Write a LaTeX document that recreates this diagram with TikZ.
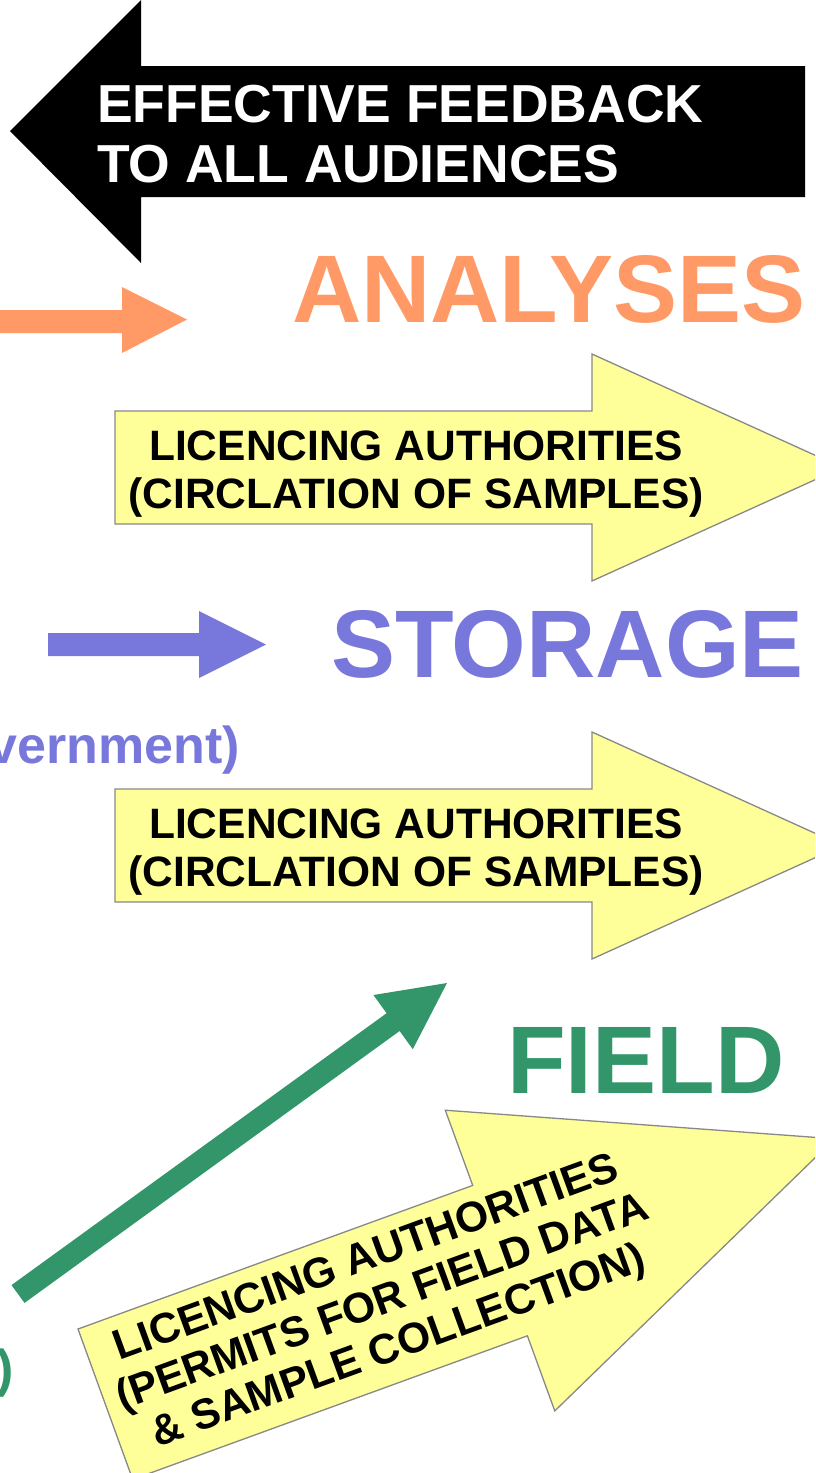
\documentclass[tikz,border=0pt]{standalone}
\usepackage{fontspec}
\setmainfont{Liberation Sans}
\definecolor{feedorange}{RGB}{255,153,102}
\definecolor{storepurple}{RGB}{120,120,220}
\definecolor{fieldgreen}{RGB}{50,150,106}
\definecolor{permityellow}{RGB}{255,255,153}
\definecolor{permitedge}{RGB}{136,136,136}
\begin{document}
\begin{tikzpicture}[x=1pt,y=-1pt,
  txt/.style={inner sep=0pt, outer sep=0pt},
  big/.style={txt, font=\fontsize{96}{96}\selectfont\bfseries},
  feedtext/.style={txt, text=white, font=\fontsize{53.5}{60}\selectfont\bfseries, anchor=base west},
  permittext/.style={txt, font=\fontsize{42.5}{47}\selectfont\bfseries, anchor=base},
  tailtext/.style={txt, font=\fontsize{52}{60}\selectfont\bfseries, anchor=base east},
  permitarrow/.style={fill=permityellow, draw=permitedge, line width=1.3pt, line join=miter},
]
\useasboundingbox (0,0) rectangle (815,1473);
\clip (0,0) rectangle (815,1473);

% feedback arrow pointing left
\fill[black] (10,131) -- (141,0) -- (141,66) -- (805,66) -- (805,197)
  -- (141,197) -- (141,263) -- cycle;
\node[feedtext] (fb1) at (97,122.5) {EFFECTIVE FEEDBACK};
\node[feedtext] (fb2) at (97,182.5) {TO ALL AUDIENCES};

% analyses level
\fill[feedorange] (-5,310) -- (122,310) -- (122,287) -- (187,319.5)
  -- (122,353) -- (122,333) -- (-5,333) -- cycle;
\node[big, text=feedorange, anchor=base west] (analyses) at (292,322) {ANALYSES};

\draw[permitarrow] (115,411) -- (592,411) -- (592,354) -- (842,467.5)
  -- (592,581) -- (592,524) -- (115,524) -- cycle;
\node[permittext] (lic1a) at (416,460) {LICENCING AUTHORITIES};
\node[permittext] (lic1b) at (416,508) {(CIRCLATION OF SAMPLES)};

% storage level
\fill[storepurple] (48,633) -- (199,633) -- (199,611) -- (266,644.5)
  -- (199,678) -- (199,656) -- (48,656) -- cycle;
\node[big, text=storepurple, anchor=base west] (storage) at (331,677) {STORAGE};
\node[tailtext, text=storepurple] (gov) at (240,763) {vernment)};

\draw[permitarrow] (115,789) -- (592,789) -- (592,732) -- (842,845.5)
  -- (592,959) -- (592,902) -- (115,902) -- cycle;
\node[permittext] (lic2a) at (416,838) {LICENCING AUTHORITIES};
\node[permittext] (lic2b) at (416,886) {(CIRCLATION OF SAMPLES)};

% field level
\fill[fieldgreen] (24.5,1302.9) -- (11.5,1285.1) -- (386.6,1013.2) -- (373.4,995.0)
  -- (447,983) -- (412.8,1049.2) -- (399.6,1031.0) -- cycle;
\node[big, text=fieldgreen, anchor=base west] (field) at (507,1093) {FIELD};
\node[tailtext, text=fieldgreen] (fieldtail) at (14,1386) {)};

\draw[permitarrow] (78,1329) -- (472.7,1185.4) -- (445.3,1110.2) -- (834.6,1138.8)
  -- (554.8,1410.9) -- (527.4,1335.8) -- (132.7,1479.4) -- cycle;
\node[txt, font=\fontsize{42.5}{47}\selectfont\bfseries, align=center,
  rotate=20, anchor=center] (lic3) at (383,1304)
  {LICENCING AUTHORITIES\\(PERMITS FOR FIELD DATA\\\& SAMPLE COLLECTION)};
\end{tikzpicture}
\end{document}
